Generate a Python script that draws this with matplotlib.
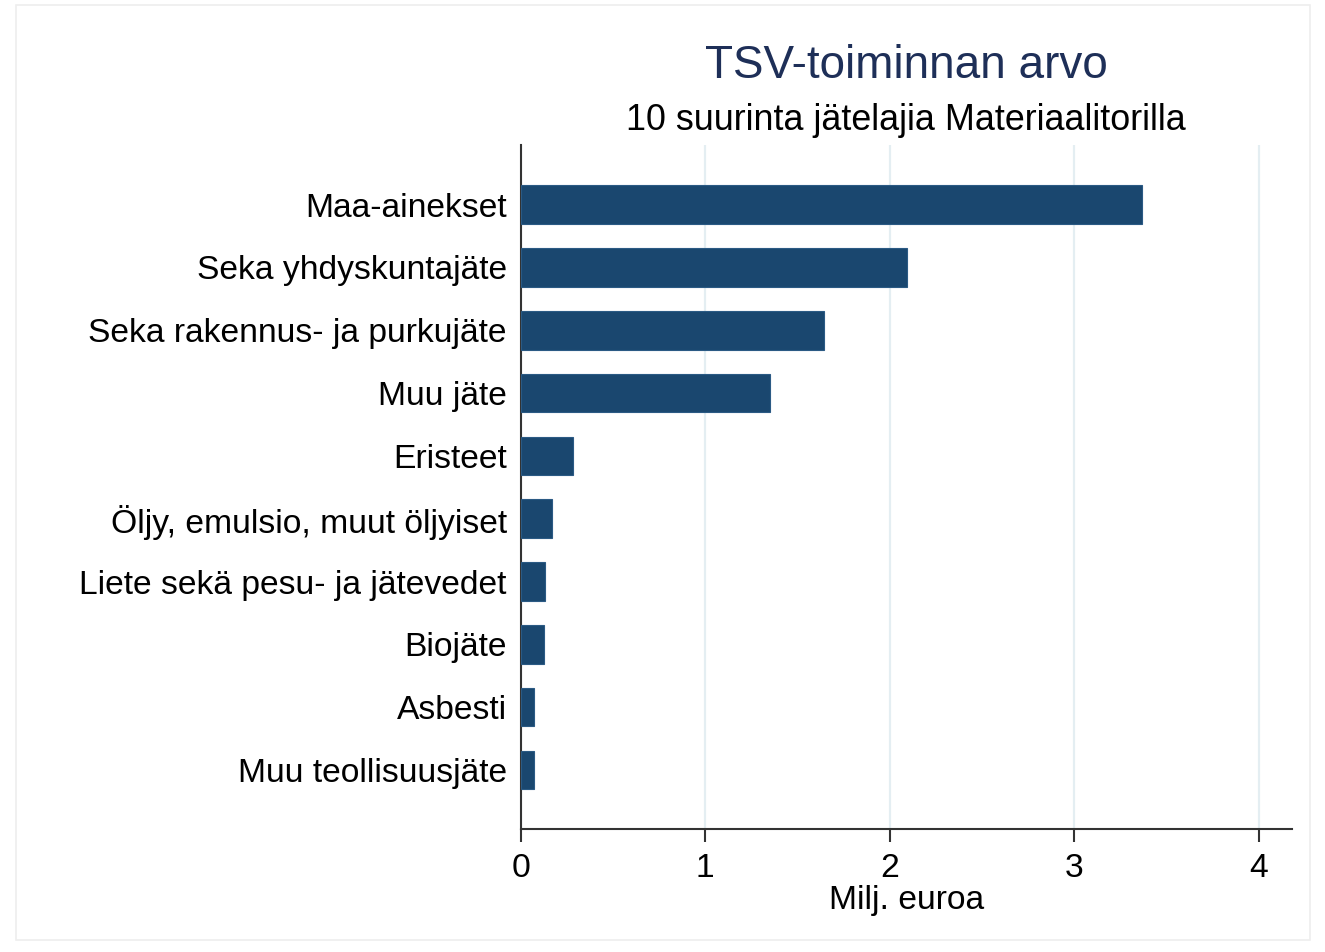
import matplotlib
matplotlib.use("Agg")
import matplotlib.pyplot as plt
import numpy as np
from matplotlib.patches import Rectangle

plt.rcParams['font.family'] = ['Liberation Sans', 'DejaVu Sans']

categories = ["Maa-ainekset", "Seka yhdyskuntajäte", "Seka rakennus- ja purkujäte",
              "Muu jäte", "Eristeet", "Öljy, emulsio, muut öljyiset",
              "Liete sekä pesu- ja jätevedet", "Biojäte", "Asbesti", "Muu teollisuusjäte"]
values = [3.365, 2.091, 1.644, 1.353, 0.286, 0.170, 0.134, 0.126, 0.074, 0.072]
xticks = [0, 1, 2, 3, 4]
title = "TSV-toiminnan arvo"
subtitle = "10 suurinta jätelajia Materiaalitorilla"
xlabel = "Milj. euroa"

W, H = 1325, 952
fig = plt.figure(figsize=(W / 100, H / 100), dpi=100)
fig.patch.set_facecolor("white")

# faint outer frame
fig.add_artist(Rectangle((16 / W, 1 - 940 / H), (1310 - 16) / W, (940 - 5) / H,
                         transform=fig.transFigure, fill=False,
                         edgecolor="#eeeeee", linewidth=1.2))

left, right = 520.7 / W, 1292 / W
bottom, top = 1 - 829 / H, 1 - 145 / H
ax = fig.add_axes([left, bottom, right - left, top - bottom])

navy = "#1a476f"
y = np.arange(len(categories))
ax.barh(y, values, height=0.615, color=navy, edgecolor="#2b5a84", linewidth=0.8, zorder=3)

ax.set_ylim(len(categories) - 1 + 0.94, -0.95)
ax.set_xlim(0, 4.18)
ax.set_yticks(y)
ax.set_yticklabels(categories, fontsize=24.2, color="black")
ax.set_xticks(xticks)
ax.set_xticklabels([str(t) for t in xticks], fontsize=24.2, color="black")

ax.tick_params(axis="y", length=0, pad=10)
ax.tick_params(axis="x", length=9, width=1.5, color="#333333", pad=8)

for s in ["top", "right"]:
    ax.spines[s].set_visible(False)
for s in ["left", "bottom"]:
    ax.spines[s].set_color("#333333")
    ax.spines[s].set_linewidth(1.5)

ax.grid(axis="x", color="#e4eef2", linewidth=1.6, zorder=0)
ax.set_axisbelow(True)
ax.yaxis.grid(False)

ax.set_xlabel(xlabel, fontsize=24.2, labelpad=1)

cx = (left + right) / 2
fig.text(cx, 1 - 66 / H, title, ha="center", va="center", fontsize=33, color="#1e2f58")
fig.text(cx, 1 - 120 / H, subtitle, ha="center", va="center", fontsize=25.8, color="black")

fig.savefig("out.png", dpi=100, facecolor="white")
